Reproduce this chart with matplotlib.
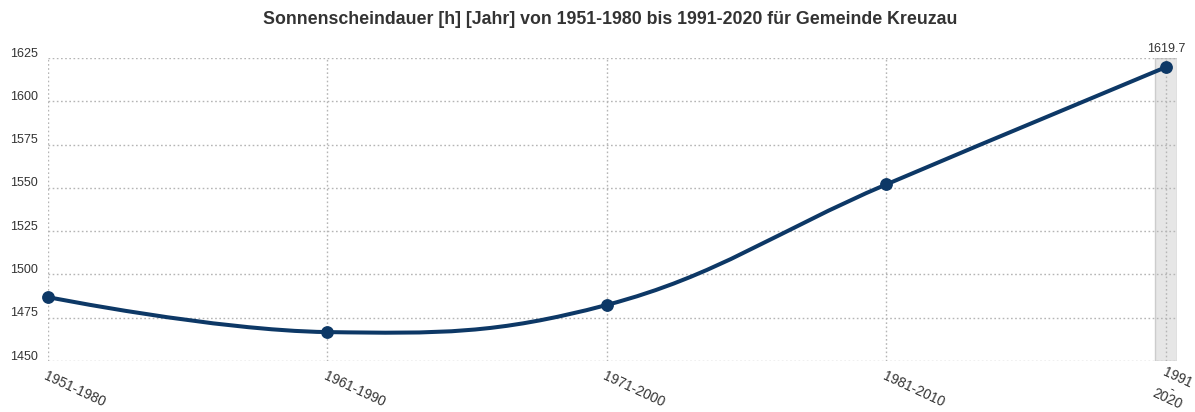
import matplotlib
matplotlib.use("Agg")
import matplotlib.pyplot as plt
import matplotlib.transforms as mtransforms
from matplotlib.path import Path
from matplotlib.patches import PathPatch
import numpy as np

plt.rcParams['font.family'] = ['Liberation Sans', 'DejaVu Sans']

categories = ["1951-1980", "1961-1990", "1971-2000", "1981-2010", "1991-2020"]
tick_labels = ["1951-1980", "1961-1990", "1971-2000", "1981-2010", "1991\n-\n2020"]
values = [1486.9, 1466.7, 1482.4, 1552.0, 1619.7]
yticks = [1450, 1475, 1500, 1525, 1550, 1575, 1600, 1625]
title = "Sonnenscheindauer [h] [Jahr] von 1951-1980 bis 1991-2020 für Gemeinde Kreuzau"

W, H = 1195, 412
fig = plt.figure(figsize=(W / 100, H / 100), dpi=100)
ax = fig.add_axes([48 / W, 1 - 361 / H, (1177 - 48) / W, (361 - 58) / H])

x = np.arange(len(values), dtype=float)
y = np.array(values, dtype=float)

# Highcharts-like spline path, computed in pixel space
ax.set_xlim(0, 4.04)
ax.set_ylim(1450, 1625)
fig.canvas.draw()
pts = ax.transData.transform(np.column_stack([x, y]))
sm = 1.5
n = len(pts)
lc = [None] * n
rc = [None] * n
for i in range(1, n - 1):
    px, py = pts[i]
    lx, ly = pts[i - 1]
    nx, ny = pts[i + 1]
    lcx = (sm * px + lx) / (sm + 1)
    lcy = (sm * py + ly) / (sm + 1)
    rcx = (sm * px + nx) / (sm + 1)
    rcy = (sm * py + ny) / (sm + 1)
    if rcx != lcx:
        corr = ((rcy - lcy) * (rcx - px)) / (rcx - lcx) + py - rcy
        lcy += corr
        rcy += corr
    lc[i] = (lcx, lcy)
    rc[i] = (rcx, rcy)
verts = [tuple(pts[0])]
codes = [Path.MOVETO]
for i in range(1, n):
    c1 = rc[i - 1] if rc[i - 1] is not None else tuple(pts[i - 1])
    c2 = lc[i] if lc[i] is not None else tuple(pts[i])
    verts += [c1, c2, tuple(pts[i])]
    codes += [Path.CURVE4] * 3
inv = ax.transData.inverted()
verts_data = inv.transform(np.array(verts))
navy = "#0d3866"

# highlight band on last category
ax.axvspan(3.96, 4.04, facecolor="#e6e6e6", edgecolor="#cccccc", linewidth=1, zorder=0)

ax.add_patch(PathPatch(Path(verts_data, codes), facecolor="none", edgecolor=navy,
                       linewidth=2.9, zorder=3, capstyle="round", joinstyle="round"))
ax.plot(x, y, "o", color=navy, markersize=8.2, zorder=4, clip_on=False)

ax.annotate("1619.7", (x[-1], y[-1]), xytext=(0, 9), textcoords="offset points",
            ha="center", va="bottom", fontsize=9, color="#333333")

for s in ax.spines.values():
    s.set_visible(False)
ax.set_yticks(yticks)
ax.set_yticklabels([str(v) for v in yticks], fontsize=9, color="#333333")
ax.set_xticks(x)
ax.set_xticklabels([])
ax.tick_params(axis="both", length=0)
ax.tick_params(axis="y", pad=7)
offy = mtransforms.ScaledTranslation(0, 6 / 100, fig.dpi_scale_trans)
for lab in ax.get_yticklabels():
    lab.set_transform(lab.get_transform() + offy)

# rotated category labels
base = ax.get_xaxis_transform()
for xi, lab in zip(x, tick_labels):
    if "\n" in lab:
        tr = base + mtransforms.ScaledTranslation(0 / 100, -4 / 100, fig.dpi_scale_trans)
        ax.text(xi, 0, lab, transform=tr, rotation=-25, rotation_mode="anchor",
                ha="left", va="top", fontsize=10, color="#333333",
                multialignment="center", linespacing=0.8, clip_on=False)
    else:
        tr = base + mtransforms.ScaledTranslation(0 / 100, -8 / 100, fig.dpi_scale_trans)
        ax.text(xi, 0, lab, transform=tr, rotation=-25, rotation_mode="anchor",
                ha="left", va="top", fontsize=10, color="#333333", clip_on=False)

ax.grid(True, color="#b5b5b5", linestyle=(0, (1.2, 1.8)), linewidth=1)
ax.set_axisbelow(True)

fig.text(610 / W, 1 - 19 / H, title, ha="center", va="center", fontsize=12.8,
         fontweight="bold", color="#333333")

fig.savefig("out.png", dpi=100)
